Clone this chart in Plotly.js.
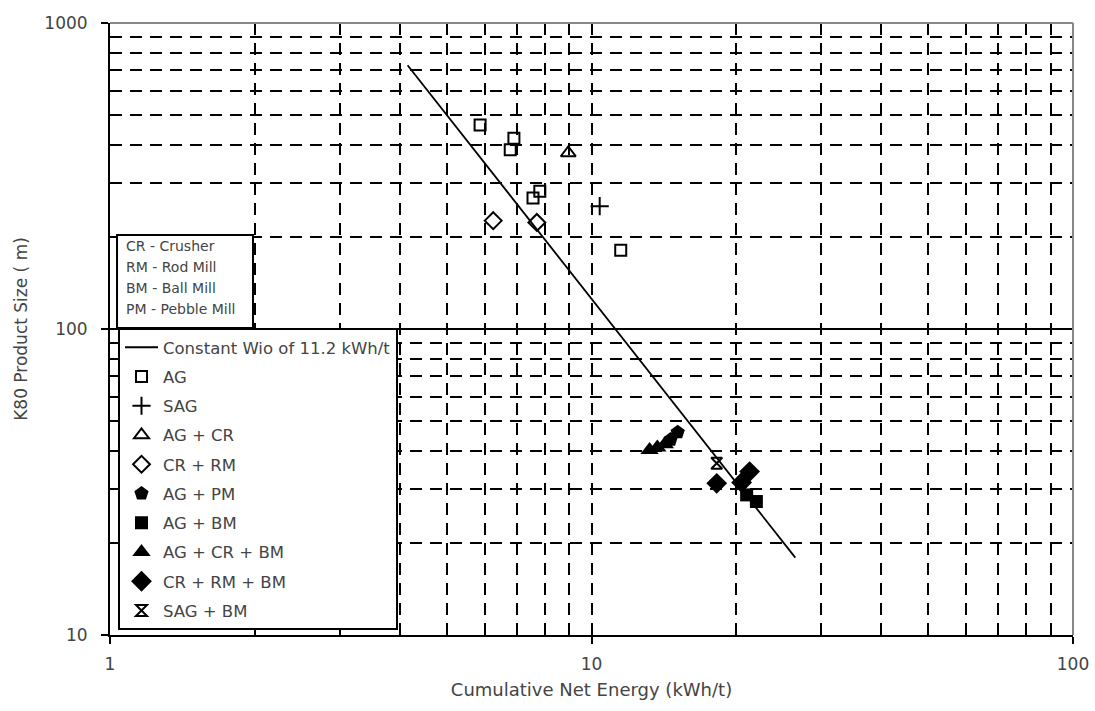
<!DOCTYPE html>
<html>
<head>
<meta charset="utf-8">
<script src="https://cdn.plot.ly/plotly-3.0.1.min.js"></script>
<style>
  html, body { margin: 0; padding: 0; background: #fff; }
  #chart { width: 1095px; height: 711px; }
</style>
</head>
<body>
<div id="chart"></div>
<script>
// ---- data ----
const wiLineEnergy = [4.15, 26.5];
const wiLineSize = [728, 17.9];

const agEnergy = [5.87, 6.9, 6.78, 7.56, 7.81, 11.5];
const agSize = [464, 420, 385, 268, 282, 181];

const sagEnergy = [10.4];
const sagSize = [252];

const agCrEnergy = [8.95];
const agCrSize = [376];

const crRmEnergy = [6.25, 7.7];
const crRmSize = [226, 223];

const agPmEnergy = [14.6, 15.1];
const agPmSize = [43.5, 46];

const agBmEnergy = [21.0, 22.0];
const agBmSize = [28.7, 27.3];

const agCrBmEnergy = [13.2, 13.7, 14.2];
const agCrBmSize = [40.2, 41.0, 42.0];

const crRmBmEnergy = [18.2, 20.5, 21.3];
const crRmBmSize = [31.3, 31.5, 34.2];

const sagBmEnergy = [18.2];
const sagBmSize = [36.4];

const seriesNames = ['Constant Wio of 11.2 kWh/t', 'AG', 'SAG', 'AG + CR', 'CR + RM',
  'AG + PM', 'AG + BM', 'AG + CR + BM', 'CR + RM + BM', 'SAG + BM'];

const abbreviations = ['CR - Crusher', 'RM - Rod Mill', 'BM - Ball Mill', 'PM - Pebble Mill'];

const xTickVals = [1, 10, 100];
const xTickText = ['1', '10', '100'];
const xMinorVals = [2, 3, 4, 5, 6, 7, 8, 9, 20, 30, 40, 50, 60, 70, 80, 90];
const yTickVals = [10, 100, 1000];
const yTickText = ['10', '100', '1000'];
const yMinorVals = [20, 30, 40, 50, 60, 70, 80, 90, 200, 300, 400, 500, 600, 700, 800, 900];

// ---- styles ----
const FONT = 'DejaVu Sans';
const TXT = '#444';
const DASH = '12px,8px';

function pts(i, x, y, symbol, size, open) {
  return {
    type: 'scatter', mode: 'markers', x: x, y: y, name: seriesNames[i],
    legendgroup: 'g' + i,
    marker: {
      symbol: symbol, size: size, color: '#000',
      line: { color: '#000', width: open ? 2 : 0 }
    }
  };
}

const traces = [
  { type: 'scatter', mode: 'lines', x: wiLineEnergy, y: wiLineSize, name: seriesNames[0],
    legendgroup: 'g0', line: { color: '#000', width: 1.8 } },
  pts(1, agEnergy, agSize, 'square-open', 11, true),
  pts(2, sagEnergy, sagSize, 'cross-thin-open', 13, true),
  pts(3, agCrEnergy, agCrSize, 'triangle-up-open', 13, true),
  pts(4, crRmEnergy, crRmSize, 'diamond-open', 13, true),
  pts(5, agPmEnergy, agPmSize, 'pentagon', 15, false),
  pts(6, agBmEnergy, agBmSize, 'square', 13, false),
  pts(7, agCrBmEnergy, agCrBmSize, 'triangle-up', 16, false),
  pts(8, crRmBmEnergy, crRmBmSize, 'diamond', 16, false),
  pts(9, sagBmEnergy, sagBmSize, 'hourglass-open', 11, true)
];

// abbreviation box text
const abbrevRowsY = [0.6356, 0.6013, 0.5670, 0.5327];
const annotations = abbreviations.map((t, i) => ({
  xref: 'paper', yref: 'paper', x: 0.0145, y: abbrevRowsY[i],
  xanchor: 'left', yanchor: 'middle', showarrow: false, text: t,
  font: { family: FONT, size: 14, color: TXT }
}));

const shapes = [
  // abbreviation box
  { type: 'rect', xref: 'paper', yref: 'paper', x0: 0.0073, x1: 0.1485, y0: 0.5016, y1: 0.6536,
    line: { color: '#000', width: 2 }, fillcolor: '#fff', layer: 'above' },
  // grey top and right frame
  { type: 'line', xref: 'paper', yref: 'paper', x0: 0, x1: 1, y0: 1, y1: 1,
    line: { color: '#888', width: 2 }, layer: 'above' },
  { type: 'line', xref: 'paper', yref: 'paper', x0: 1, x1: 1, y0: 0, y1: 1,
    line: { color: '#888', width: 2 }, layer: 'above' }
];

const layout = {
  width: 1095, height: 711,
  margin: { l: 110, r: 22, t: 23, b: 76, pad: 0 },
  paper_bgcolor: '#fff', plot_bgcolor: '#fff',
  showlegend: true,
  legend: {
    x: 0.0083, y: 0.5016, xanchor: 'left', yanchor: 'top',
    bgcolor: '#fff', bordercolor: '#000', borderwidth: 2,
    font: { family: FONT, size: 16.5, color: TXT },
    traceorder: 'grouped', tracegroupgap: 4.8,
    itemsizing: 'trace', itemwidth: 33
  },
  xaxis: {
    type: 'log', range: [0, 2],
    tickmode: 'array', tickvals: xTickVals, ticktext: xTickText,
    ticks: 'outside', ticklen: 7, tickwidth: 2, tickcolor: '#000',
    ticklabelstandoff: 6,
    showline: true, linecolor: '#000', linewidth: 2, zeroline: false,
    showgrid: true, gridcolor: '#000', gridwidth: 2, griddash: DASH,
    minor: { tickmode: 'array', tickvals: xMinorVals, ticks: '', showgrid: true,
      gridcolor: '#000', gridwidth: 2, griddash: DASH },
    tickfont: { family: FONT, size: 17, color: TXT },
    title: { text: 'Cumulative Net Energy (kWh/t)', font: { family: FONT, size: 18, color: TXT }, standoff: 10 }
  },
  yaxis: {
    type: 'log', range: [1, 3],
    tickmode: 'array', tickvals: yTickVals, ticktext: yTickText,
    ticks: 'outside', ticklen: 7, tickwidth: 2, tickcolor: '#000',
    ticklabelstandoff: 10,
    showline: true, linecolor: '#000', linewidth: 2, zeroline: false,
    showgrid: true, gridcolor: '#000', gridwidth: 1.5,
    minor: { tickmode: 'array', tickvals: yMinorVals, ticks: '', showgrid: true,
      gridcolor: '#000', gridwidth: 2, griddash: DASH },
    tickfont: { family: FONT, size: 17, color: TXT },
    title: { text: 'K80 Product Size ( m)', font: { family: FONT, size: 17, color: TXT }, standoff: 12 }
  },
  shapes: shapes,
  annotations: annotations
};

Plotly.newPlot('chart', traces, layout, { displayModeBar: false, staticPlot: true });
</script>
</body>
</html>
